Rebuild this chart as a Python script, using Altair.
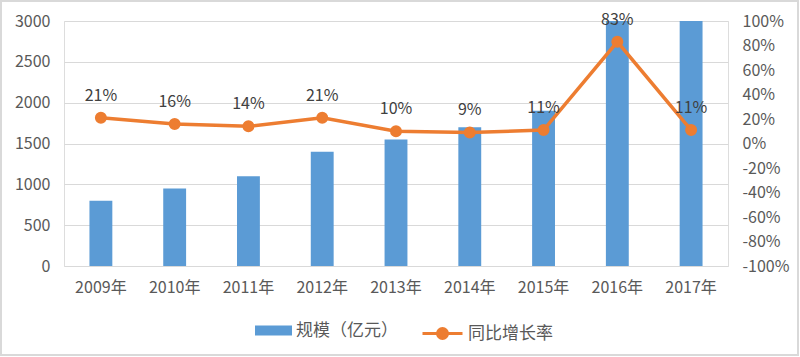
import altair as alt
import pandas as pd

years = ["2009年", "2010年", "2011年", "2012年", "2013年", "2014年", "2015年", "2016年", "2017年"]
scale_values = [800, 950, 1100, 1400, 1550, 1700, 1900, 3000, 3000]
growth = [0.21, 0.16, 0.14, 0.21, 0.10, 0.09, 0.11, 0.83, 0.11]
growth_labels = ["21%", "16%", "14%", "21%", "10%", "9%", "11%", "83%", "11%"]
left_ticks = [0, 500, 1000, 1500, 2000, 2500, 3000]
right_ticks = [-1.0, -0.8, -0.6, -0.4, -0.2, 0.0, 0.2, 0.4, 0.6, 0.8, 1.0]
bar_name = "规模（亿元）"
line_name = "同比增长率"

BLUE = "#5B9BD5"
ORANGE = "#ED7D31"
GRID = "#D9D9D9"
AXIS_TEXT = "#595959"
FONT = "Noto Sans CJK SC"

df = pd.DataFrame({
    "year": years,
    "scale": scale_values,
    "growth": growth,
    "label": growth_labels,
    "bar_series": [bar_name] * len(years),
    "line_series": [line_name] * len(years),
})

x_enc = alt.X(
    "year:N", sort=years, title=None,
    scale=alt.Scale(paddingInner=0.69, paddingOuter=0.345),
    axis=alt.Axis(labelAngle=0, labelFontSize=16, labelColor=AXIS_TEXT,
                  labelPadding=13, ticks=False, domain=False, grid=False),
)

bars = alt.Chart(df).mark_bar().encode(
    x=x_enc,
    y=alt.Y("scale:Q", title=None,
            scale=alt.Scale(domain=[0, 3000], nice=False, clamp=True),
            axis=alt.Axis(orient="left", values=left_ticks, format="d", grid=True,
                          gridColor=GRID, gridWidth=1, ticks=False, domain=False,
                          labelFontSize=16, labelColor=AXIS_TEXT, labelPadding=14)),
    fill=alt.Fill("bar_series:N",
                  scale=alt.Scale(domain=[bar_name], range=[BLUE]),
                  legend=alt.Legend(orient="none", legendX=191, legendY=291,
                                    title=None, padding=0, offset=0,
                                    symbolType="M-1,-0.27L1,-0.27L1,0.27L-1,0.27Z",
                                    symbolSize=1369, symbolStrokeWidth=0,
                                    labelFontSize=17, labelColor=AXIS_TEXT,
                                    labelOffset=4)),
)

y_right = alt.Y("growth:Q", title=None,
                scale=alt.Scale(domain=[-1, 1], nice=False),
                axis=alt.Axis(orient="right", values=right_ticks,
                              labelExpr="(datum.value < 0 ? '-' : '') + format(abs(datum.value) * 100, '.0f') + '%'",
                              grid=False, ticks=False, domain=False,
                              labelFontSize=16, labelColor=AXIS_TEXT, labelPadding=14))

line = alt.Chart(df).mark_line(
    strokeWidth=3.5,
    point=alt.OverlayMarkDef(filled=True, size=100, color=ORANGE),
).encode(
    x=x_enc,
    y=y_right,
    stroke=alt.Stroke("line_series:N",
                      scale=alt.Scale(domain=[line_name], range=[ORANGE]),
                      legend=alt.Legend(orient="none", legendX=357, legendY=291,
                                        title=None, padding=0, offset=0,
                                        symbolType="M-1,0L1,0M-0.25,0A0.25,0.25,0,1,0,0.25,0A0.25,0.25,0,1,0,-0.25,0Z",
                                        symbolSize=1600, symbolStrokeWidth=3,
                                        symbolFillColor=ORANGE,
                                        labelFontSize=17, labelColor=AXIS_TEXT,
                                        labelOffset=4)),
)

labels = alt.Chart(df).mark_text(dy=-22, fontSize=16, color="#404040").encode(
    x=x_enc,
    y=y_right,
    text="label:N",
)

border = alt.Chart(pd.DataFrame({"k": [0]})).mark_rect(
    fillOpacity=0, stroke=GRID, strokeWidth=2
).encode(
    x=alt.value(-63), x2=alt.value(734), y=alt.value(-20), y2=alt.value(334)
)

right_layer = alt.layer(line, labels)

chart = alt.layer(bars, right_layer, border).resolve_scale(
    y="independent", fill="independent", stroke="independent"
).properties(
    width=664, height=245,
    padding={"left": 64, "top": 21, "right": 72, "bottom": 91},
    autosize=alt.AutoSizeParams(type="none"),
    background="white",
).configure_view(stroke=None).configure(font=FONT)

chart.save("out.html", embed_options={"renderer": "svg", "actions": False})
